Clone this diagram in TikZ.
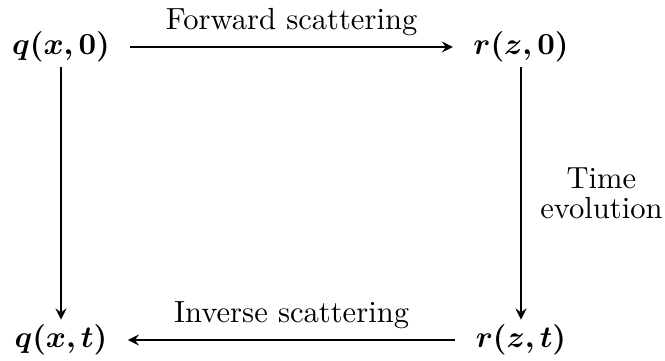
\documentclass[tikz,border=0pt]{standalone}
\usepackage{amsmath}
\usepackage{bm}
\usetikzlibrary{positioning}

\begin{document}
\begin{tikzpicture}[x=0.327pt, y=-0.327pt, >=stealth]
\useasboundingbox (0,0) rectangle (665,360);
\tikzset{state/.style={inner xsep=6.5pt, inner ysep=1.5pt}}
\node[state] (q0) at (61,47) {$\bm{q(x,0)}$};
\node[state] (r0) at (521,47) {$\bm{r(z,0)}$};
\node[state] (qt) at (61,340) {$\bm{q(x,t)}$};
\node[state] (rt) at (521,340) {$\bm{r(z,t)}$};
\draw[->, semithick] (q0) -- node[above] {Forward scattering} (r0);
\draw[->, semithick] (rt) -- node[above] {Inverse scattering} (qt);
\draw[->, semithick] (q0) -- (qt);
\draw[->, semithick] (r0) -- node[right, inner xsep=6pt, align=center] {Time\\[-2pt]evolution} (rt);
\end{tikzpicture}
\end{document}
